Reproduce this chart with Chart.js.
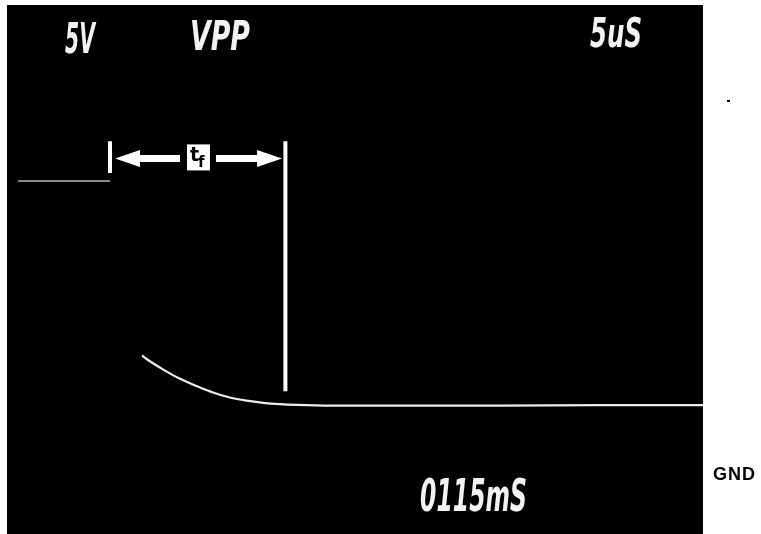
<!DOCTYPE html>
<html>
<head>
<meta charset="utf-8">
<title>Fall time (tf) scope trace</title>
<script src="https://cdn.jsdelivr.net/npm/chart.js@4.4.1/dist/chart.umd.min.js"></script>
<style>
  html, body { margin: 0; padding: 0; background: #fff; }
  #wrap { width: 761px; height: 534px; position: relative; }
</style>
</head>
<body>
<div id="wrap"><canvas id="scope"></canvas></div>
<script>
// Trace: time in µs (5 µs/div), level in volts (5 V/div, GND at 0)
const upperTime = [0.8, 7.4];
const upperVolts = [22.2, 22.2];
const decayTime = [9.7, 10.0, 11.2, 12.4, 13.7, 14.8, 16.0, 17.2, 18.4, 19.6, 20.8, 23.2, 28.2, 35.4, 42.6, 50.0];
const decayVolts = [9.0, 8.75, 7.95, 7.25, 6.65, 6.2, 5.82, 5.58, 5.42, 5.32, 5.26, 5.2, 5.2, 5.2, 5.25, 5.25];

// tf cursor lines (µs) and their vertical extent (V)
const cursorTimes = [7.4, 20.0];
const cursorTop = 25.2;
const cursorBottoms = [22.8, 6.3];

// tf arrow: tips, box between, level
const arrowTips = [7.76, 19.76];
const arrowBox = [12.93, 14.58];
const arrowLevel = 23.9;

// Screen readouts
const readouts = [
    { text: '5V', x: 65, top: 22, w: 30, h: 31 },
    { text: 'VPP', x: 190, top: 20, w: 60, h: 30 },
    { text: '5uS', x: 590, top: 17, w: 52, h: 30 },
    { text: '0115mS', x: 420, top: 478, w: 107, h: 33 }
];

const toPoints = (xs, ys) => xs.map((x, i) => ({ x: x, y: ys[i] }));

const cursorSets = cursorTimes.map((t, i) => ({
    data: toPoints([t, t], [cursorTop, cursorBottoms[i]]),
    borderColor: '#ffffff',
    borderWidth: 4,
    pointRadius: 0,
    borderCapStyle: 'butt'
}));

// Black screen behind the chart area
const screenBg = {
    id: 'screenBg',
    beforeDraw(chart) {
        const { ctx, chartArea: a } = chart;
        ctx.save();
        ctx.fillStyle = '#000';
        ctx.fillRect(a.left, a.top, a.right - a.left, a.bottom - a.top);
        ctx.restore();
    }
};

function drawFit(ctx, r) {
    const size = r.h / 0.73;
    ctx.save();
    ctx.font = `italic bold ${size}px "DejaVu Sans"`;
    const m = ctx.measureText(r.text).width;
    ctx.translate(r.x, r.top + r.h);
    ctx.scale(r.w / m, 1);
    ctx.fillStyle = '#f2f2f2';
    ctx.textBaseline = 'alphabetic';
    ctx.fillText(r.text, 0, 0);
    ctx.restore();
}

function arrow(ctx, tailX, tipX, y) {
    const dir = Math.sign(tipX - tailX);
    const headLen = 25, headHalf = 8.5, shaftHalf = 3.5;
    const baseX = tipX - dir * headLen;
    ctx.beginPath();
    ctx.moveTo(tailX, y - shaftHalf);
    ctx.lineTo(baseX, y - shaftHalf);
    ctx.lineTo(baseX, y - headHalf);
    ctx.lineTo(tipX, y);
    ctx.lineTo(baseX, y + headHalf);
    ctx.lineTo(baseX, y + shaftHalf);
    ctx.lineTo(tailX, y + shaftHalf);
    ctx.closePath();
    ctx.fill();
}

const overlay = {
    id: 'overlay',
    afterDatasetsDraw(chart) {
        const { ctx, scales: { x, y } } = chart;
        const ay = y.getPixelForValue(arrowLevel);
        const boxL = x.getPixelForValue(arrowBox[0]);
        const boxR = x.getPixelForValue(arrowBox[1]);
        ctx.save();
        ctx.fillStyle = '#ffffff';
        arrow(ctx, boxL - 7, x.getPixelForValue(arrowTips[0]), ay);
        arrow(ctx, boxR + 6, x.getPixelForValue(arrowTips[1]), ay);
        ctx.fillRect(boxL, ay - 14, boxR - boxL, 26);
        ctx.fillStyle = '#000';
        ctx.font = 'bold 19px "DejaVu Sans"';
        ctx.fillText('t', boxL + 3, ay + 3);
        ctx.font = 'bold 15px "DejaVu Sans"';
        ctx.fillText('f', boxL + 11, ay + 9);
        ctx.restore();

        readouts.forEach(r => drawFit(ctx, r));

        ctx.save();
        ctx.fillStyle = '#000';
        ctx.font = 'bold 18px "Liberation Sans"';
        ctx.letterSpacing = '1px';
        ctx.fillText('GND', 713, 480);
        ctx.fillRect(727, 100, 3, 2);
        ctx.restore();
    }
};

new Chart(document.getElementById('scope'), {
    type: 'line',
    data: {
        datasets: [
            {
                data: toPoints(upperTime, upperVolts),
                borderColor: '#b8b8b8',
                borderWidth: 1.5,
                pointRadius: 0
            },
            {
                data: toPoints(decayTime, decayVolts),
                borderColor: '#ececec',
                borderWidth: 2.2,
                pointRadius: 0,
                cubicInterpolationMode: 'monotone'
            },
            ...cursorSets
        ]
    },
    options: {
        responsive: true,
        maintainAspectRatio: false,
        animation: false,
        layout: { padding: { left: 7, right: 58, top: 5, bottom: 0 } },
        plugins: {
            legend: { display: false },
            tooltip: { enabled: false },
            title: { display: false }
        },
        scales: {
            x: { type: 'linear', min: 0, max: 50, display: false },
            y: { type: 'linear', min: -4.5, max: 35.5, display: false }
        }
    },
    plugins: [screenBg, overlay]
});
</script>
</body>
</html>
